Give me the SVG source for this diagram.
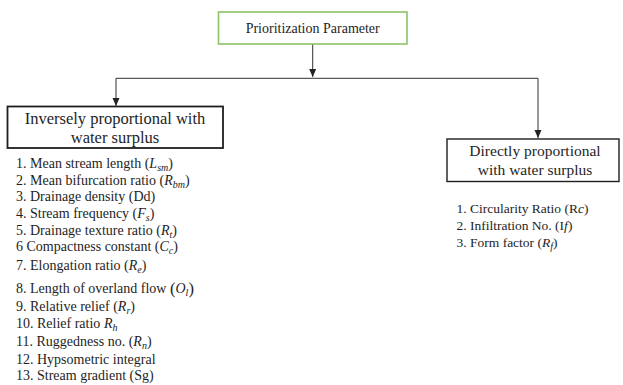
<svg xmlns="http://www.w3.org/2000/svg" width="623" height="385" viewBox="0 0 623 385">
<defs>
<marker id="arr" viewBox="0 0 8 8" refX="8" refY="4" markerWidth="8" markerHeight="8" markerUnits="userSpaceOnUse" orient="auto">
<path d="M0,0.5 L8,4 L0,7.5 Z" fill="#222"/>
</marker>
<style>
text { fill: #1e1e1e; }
.box { fill: #ffffff; stroke: #1e1e1e; }
.conn { stroke: #333; stroke-width: 1; fill: none; }
.item { font-size: 14px; }
.ritem { font-size: 13.5px; }
.i { font-style: italic; }
.sub { font-size: 10px; font-style: italic; }
</style>
</defs>
<rect width="623" height="385" fill="#ffffff"/>

<g id="connectors">
<line class="conn" x1="312.7" y1="44" x2="312.7" y2="77" marker-end="url(#arr)"/>
<line class="conn" x1="116" y1="78.3" x2="538" y2="78.3"/>
<line class="conn" x1="116" y1="78.3" x2="116" y2="106" marker-end="url(#arr)"/>
<line class="conn" x1="538" y1="78.3" x2="538" y2="138" marker-end="url(#arr)"/>
</g>

<g font-family="'Liberation Serif', 'Times New Roman', 'DejaVu Serif', serif">
<g id="node-root">
<rect x="218.5" y="12" width="188.5" height="32" fill="#ffffff" stroke="#8dc26b" stroke-width="1.6"/>
<text x="312.7" y="33" font-size="14" text-anchor="middle">Prioritization Parameter</text>
</g>

<g id="node-inverse">
<rect class="box" x="7.5" y="106.5" width="215.5" height="41.5" stroke-width="1.8"/>
<text x="115" y="124" font-size="16.5" text-anchor="middle">Inversely proportional with</text>
<text x="115" y="143" font-size="16.5" text-anchor="middle">water surplus</text>
</g>

<g id="node-direct">
<rect class="box" x="447" y="139" width="172" height="42.5" stroke-width="1.4"/>
<text x="535" y="156" font-size="15.5" text-anchor="middle">Directly proportional</text>
<text x="535" y="175" font-size="15.5" text-anchor="middle">with water surplus</text>
</g>

<g id="list-inverse">
<text class="item" x="16" y="167.5">1. Mean stream length (<tspan class="i">L</tspan><tspan class="sub" baseline-shift="-3">sm</tspan>)</text>
<text class="item" x="16" y="184.5">2. Mean bifurcation ratio (<tspan class="i">R</tspan><tspan class="sub" baseline-shift="-3">bm</tspan>)</text>
<text class="item" x="16" y="201">3. Drainage density (Dd)</text>
<text class="item" x="16" y="218">4. Stream frequency (<tspan class="i">F</tspan><tspan class="sub" baseline-shift="-3">s</tspan>)</text>
<text class="item" x="16" y="234.5">5. Drainage texture ratio (<tspan class="i">R</tspan><tspan class="sub" baseline-shift="-3">t</tspan>)</text>
<text class="item" x="16" y="251">6 Compactness constant (<tspan class="i">C</tspan><tspan class="sub" baseline-shift="-3">c</tspan>)</text>
<text class="item" x="16" y="270">7. Elongation ratio (<tspan class="i">R</tspan><tspan class="sub" baseline-shift="-3">e</tspan>)</text>
<text class="item" x="16" y="293">8. Length of overland flow <tspan font-size="16.5" baseline-shift="-1">(</tspan><tspan class="i">O</tspan><tspan class="sub" baseline-shift="-3">l</tspan><tspan font-size="16.5" baseline-shift="-1">)</tspan></text>
<text class="item" x="16" y="310.5">9. Relative relief (<tspan class="i">R</tspan><tspan class="sub" baseline-shift="-3">r</tspan>)</text>
<text class="item" x="16" y="328">10. Relief ratio <tspan class="i">R</tspan><tspan class="sub" baseline-shift="-3">h</tspan></text>
<text class="item" x="16" y="346">11. Ruggedness no. (<tspan class="i">R</tspan><tspan class="sub" baseline-shift="-3">n</tspan>)</text>
<text class="item" x="16" y="363.5">12. Hypsometric integral</text>
<text class="item" x="16" y="380">13. Stream gradient (Sg)</text>
</g>

<g id="list-direct">
<text class="ritem" x="456.5" y="213">1. Circularity Ratio (R<tspan class="i">c</tspan>)</text>
<text class="ritem" x="456.5" y="230">2. Infiltration No. (I<tspan class="i">f</tspan>)</text>
<text class="ritem" x="456.5" y="247">3. Form factor (<tspan class="i">R</tspan><tspan class="sub" baseline-shift="-3">f</tspan>)</text>
</g>
</g>
</svg>
